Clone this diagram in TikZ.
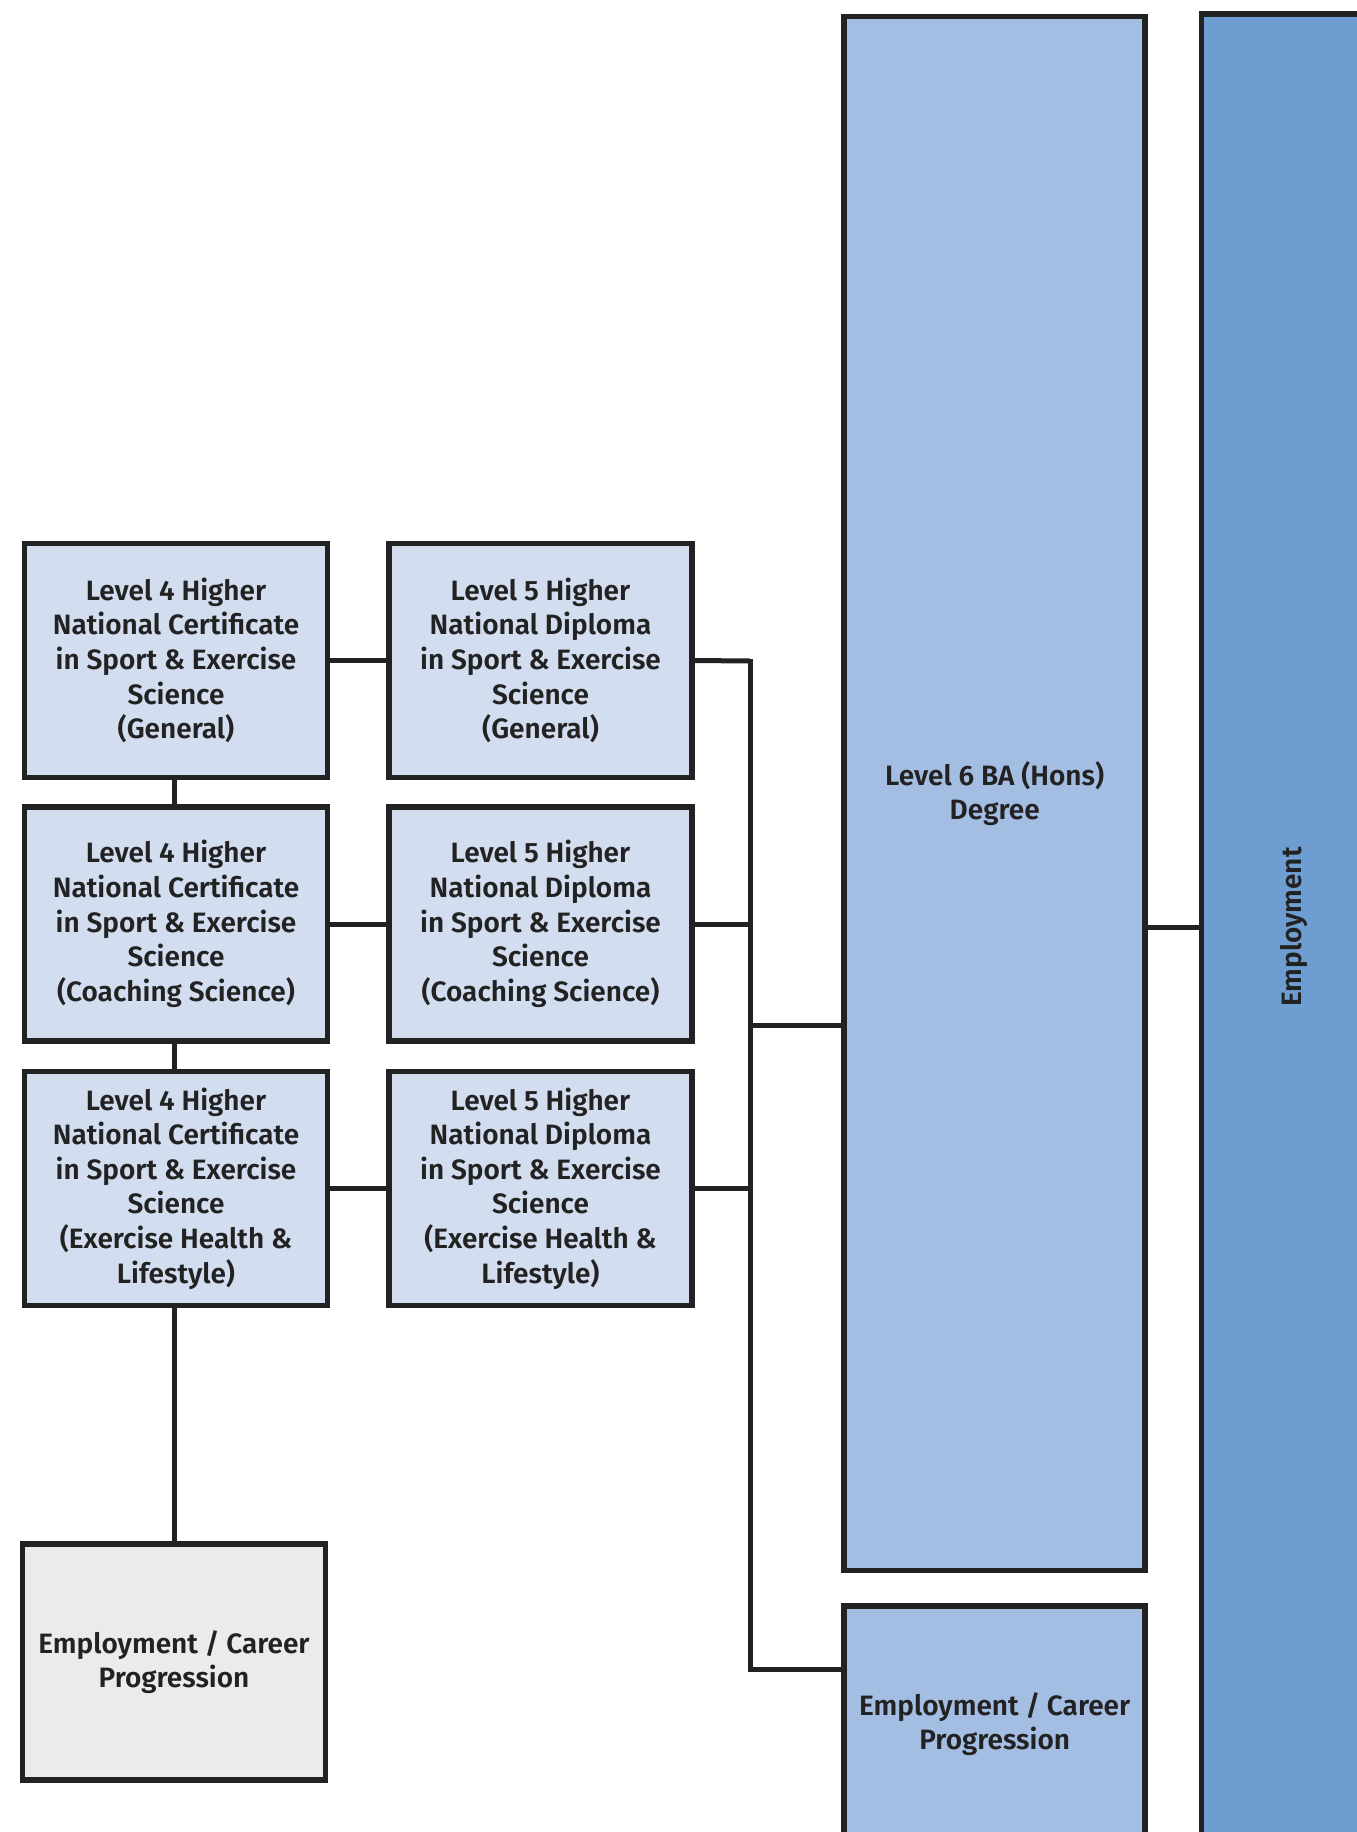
\documentclass[tikz,border=0pt]{standalone}
\usepackage{fontspec}
\setmainfont{Fira Sans}[UprightFont=* SemiBold, BoldFont=* Bold]
\definecolor{lineC}{HTML}{222222}
\definecolor{paleC}{HTML}{D3DDF0}
\definecolor{midC}{HTML}{A4BDE2}
\definecolor{darkC}{HTML}{6E9DD2}
\definecolor{greyC}{HTML}{EBEBEB}
\definecolor{txtC}{HTML}{222222}
\tikzset{
  qbox/.style={draw=lineC, line width=5.5pt, fill=paleC, minimum width=303pt, minimum height=234pt, align=center, inner sep=0pt, text=txtC, font=\fontsize{28}{34.6}\selectfont},
  conn/.style={draw=lineC, line width=5pt},
}
\begin{document}
\begin{tikzpicture}[x=1pt,y=-1pt]
\useasboundingbox (0,0) rectangle (1357,1832);
\clip (0,0) rectangle (1357,1832);
\fill[white] (0,0) rectangle (1357,1832);
% Level 4
\node[qbox] (a1) at (176,660.5) {Level 4 Higher\\National Certificate\\in Sport \& Exercise\\Science\\(General)};
\node[qbox] (a2) at (176,924) {Level 4 Higher\\National Certificate\\in Sport \& Exercise\\Science\\(Coaching Science)};
\node[qbox] (a3) at (176,1188.5) {Level 4 Higher\\National Certificate\\in Sport \& Exercise\\Science\\(Exercise Health \&\\Lifestyle)};
% Level 5
\node[qbox] (b1) at (540.5,660.5) {Level 5 Higher\\National Diploma\\in Sport \& Exercise\\Science\\(General)};
\node[qbox] (b2) at (540.5,924) {Level 5 Higher\\National Diploma\\in Sport \& Exercise\\Science\\(Coaching Science)};
\node[qbox] (b3) at (540.5,1188.5) {Level 5 Higher\\National Diploma\\in Sport \& Exercise\\Science\\(Exercise Health \&\\Lifestyle)};
% Level 6
\node[qbox, fill=midC, minimum width=301pt, minimum height=1554pt] (c) at (994.7,793.5) {Level 6 BA (Hons)\\Degree};
\node[qbox, fill=midC, minimum width=301pt, minimum height=236pt] (d) at (994.7,1724) {Employment / Career\\Progression};
\node[qbox, fill=darkC, minimum width=185pt, minimum height=1826pt] (e) at (1294,927) {};
\node[rotate=90, text=txtC, font=\fontsize{28}{34.6}\selectfont] (et) at (e.center) {Employment};
\node[qbox, fill=greyC, minimum width=303pt, minimum height=236pt] (g) at (174,1662) {Employment / Career\\Progression};
% bus
\coordinate (bt) at (750,661);
\coordinate (bb) at (750,1669);
% connectors
\draw[conn] (a1.east) -- (b1.west);
\draw[conn] (a2.east) -- (b2.west);
\draw[conn] (a3.east) -- (b3.west);
\draw[conn] (a1.south -| 174,0) -- (a2.north -| 174,0);
\draw[conn] (a2.south -| 174,0) -- (a3.north -| 174,0);
\draw[conn] (a3.south -| g.north) -- (g.north);
\draw[conn] (b1.east) -- (bt);
\draw[conn] (b2.east) -- (b2.east -| bt);
\draw[conn] (b3.east) -- (b3.east -| bt);
\draw[conn, line cap=rect] (bt) -- (bb);
\draw[conn] (bb) -- (bb -| d.west);
\draw[conn] (bt |- 0,1025) -- (c.west |- 0,1025);
\draw[conn] (c.east |- 0,927) -- (e.west |- 0,927);
\end{tikzpicture}
\end{document}
